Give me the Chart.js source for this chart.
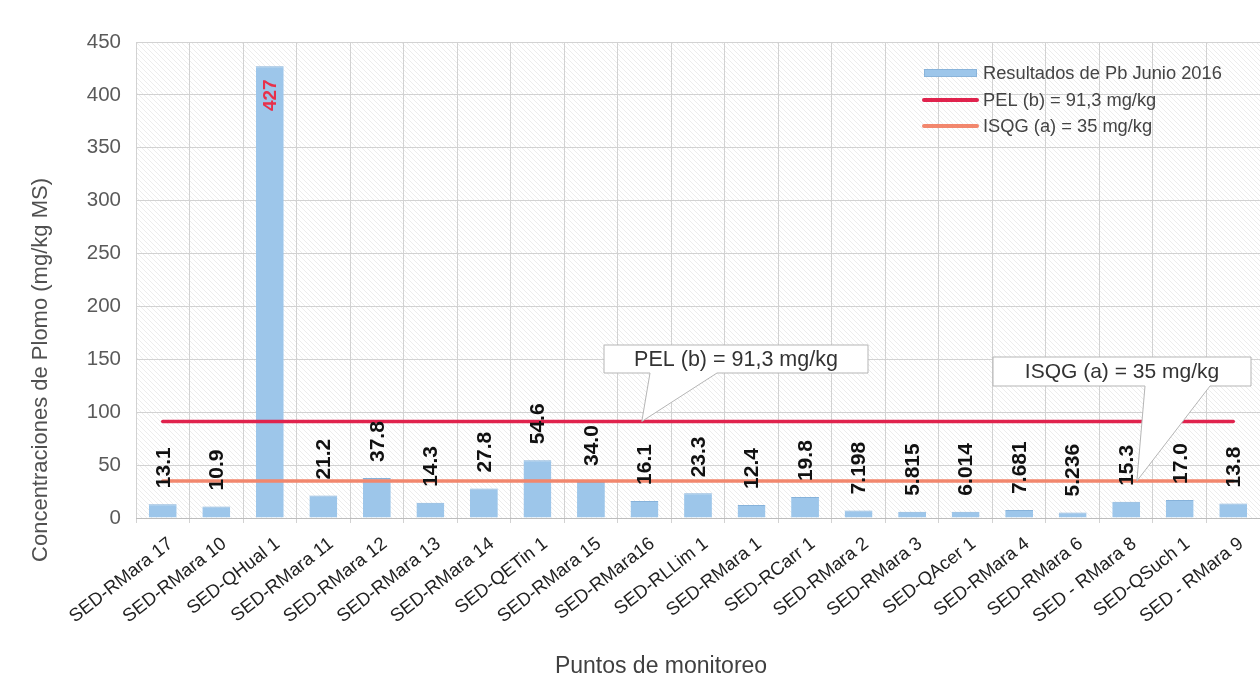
<!DOCTYPE html>
<html><head><meta charset="utf-8">
<script src="https://cdn.jsdelivr.net/npm/chart.js@4.4.1/dist/chart.umd.min.js"></script>
<style>html,body{margin:0;padding:0;background:#fff}</style>
</head><body>
<canvas id="c" width="1260" height="681" style="display:block;width:1260px;height:681px"></canvas>
<script>
const categories = ['SED-RMara 17','SED-RMara 10','SED-QHual 1','SED-RMara 11','SED-RMara 12','SED-RMara 13','SED-RMara 14','SED-QETin 1','SED-RMara 15','SED-RMara16','SED-RLLim 1','SED-RMara 1','SED-RCarr 1','SED-RMara 2','SED-RMara 3','SED-QAcer 1','SED-RMara 4','SED-RMara 6','SED - RMara 8','SED-QSuch 1','SED - RMara 9'];
const pbValues = [13.1,10.9,427,21.2,37.8,14.3,27.8,54.6,34.0,16.1,23.3,12.4,19.8,7.198,5.815,6.014,7.681,5.236,15.3,17.0,13.8];
const pbLabels = ['13.1','10.9','427','21.2','37.8','14.3','27.8','54.6','34.0','16.1','23.3','12.4','19.8','7.198','5.815','6.014','7.681','5.236','15.3','17.0','13.8'];
const pelValue = 91.3;
const isqgValue = 35;
const pelSeries = categories.map(() => pelValue);
const isqgSeries = categories.map(() => isqgValue);
const yTicks = [0,50,100,150,200,250,300,350,400,450];
const seriesNames = ['Resultados de Pb Junio 2016','PEL (b) = 91,3 mg/kg','ISQG (a) = 35 mg/kg'];
const calloutTexts = ['PEL (b) = 91,3 mg/kg','ISQG (a) = 35 mg/kg'];
const yTitle = 'Concentraciones de Plomo (mg/kg MS)';
const xTitle = 'Puntos de monitoreo';

const BAR = '#9dc6ea', RED = '#e0234d', ORANGE = '#f2876d';
const FONT = '"Liberation Sans", Arial, sans-serif';

const deco = {
  id: 'deco',
  beforeDraw(chart) {
    const {ctx, chartArea: a} = chart;
    ctx.save();
    ctx.beginPath(); ctx.rect(a.left, a.top, a.right - a.left, a.bottom - a.top); ctx.clip();
    ctx.strokeStyle = 'rgba(140,140,140,0.16)'; ctx.lineWidth = 1;
    ctx.beginPath();
    for (let s = -800; s < 1400; s += 5) {
      ctx.moveTo(a.left + s, a.top); ctx.lineTo(a.left + s + 700, a.top + 700);
    }
    ctx.stroke();
    ctx.restore();
  },
  afterDatasetsDraw(chart) {
    const {ctx} = chart;
    const meta = chart.getDatasetMeta(2);
    ctx.save();
    meta.data.forEach((bar, i) => {
      const txt = pbLabels[i];
      ctx.save();
      if (pbValues[i] > 300) {
        ctx.translate(bar.x + 1, bar.y + 13);
        ctx.rotate(-Math.PI / 2);
        ctx.font = 'bold 19px ' + FONT;
        ctx.fillStyle = '#e8304a';
        ctx.textAlign = 'right'; ctx.textBaseline = 'middle';
        ctx.fillText(txt, 0, 0);
      } else {
        ctx.translate(bar.x + 1, bar.y - 16);
        ctx.rotate(-Math.PI / 2);
        ctx.font = 'bold 21px ' + FONT;
        ctx.fillStyle = '#111';
        ctx.textAlign = 'left'; ctx.textBaseline = 'middle';
        ctx.fillText(txt, 0, 0);
      }
      ctx.restore();
    });
    ctx.restore();
  },
  afterDraw(chart) {
    const {ctx, scales} = chart;
    const x = scales.x, y = scales.y;
    ctx.save();
    ctx.fillStyle = '#505050';
    ctx.font = '22px ' + FONT;
    ctx.textAlign = 'center'; ctx.textBaseline = 'middle';
    ctx.save(); ctx.translate(41, 370); ctx.rotate(-Math.PI / 2); ctx.fillText(yTitle, 0, 0); ctx.restore();
    ctx.fillStyle = '#404040';
    ctx.font = '23px ' + FONT;
    ctx.fillText(xTitle, 661, 667);

    function callout(text, size, bx, by, bw, bh, b1, b2, tipX, tipY) {
      ctx.beginPath();
      ctx.moveTo(bx, by); ctx.lineTo(bx + bw, by); ctx.lineTo(bx + bw, by + bh);
      ctx.lineTo(b2, by + bh); ctx.lineTo(tipX, tipY); ctx.lineTo(b1, by + bh);
      ctx.lineTo(bx, by + bh); ctx.closePath();
      ctx.fillStyle = '#ffffff'; ctx.fill();
      ctx.strokeStyle = '#b5b5b5'; ctx.lineWidth = 1; ctx.stroke();
      ctx.fillStyle = '#333';
      ctx.font = size + 'px ' + FONT; ctx.textAlign = 'center'; ctx.textBaseline = 'middle';
      ctx.fillText(text, bx + bw / 2, by + bh / 2 + 1);
    }
    callout(calloutTexts[0], 21.5, 604, 345, 264, 28, 650, 717, x.getPixelForValue(8.95), y.getPixelForValue(pelValue));
    callout(calloutTexts[1], 21, 993, 357, 258, 29, 1145, 1210, x.getPixelForValue(18.2), y.getPixelForValue(isqgValue));

    const lx = 924, lw = 53, tx = 983;
    const rows = [73, 100, 126];
    ctx.fillStyle = BAR; ctx.fillRect(lx, rows[0] - 4, lw, 8);
    ctx.strokeStyle = '#8ab4da'; ctx.lineWidth = 1; ctx.strokeRect(lx + 0.5, rows[0] - 3.5, lw - 1, 7);
    ctx.lineCap = 'round';
    ctx.strokeStyle = RED; ctx.lineWidth = 4;
    ctx.beginPath(); ctx.moveTo(lx, rows[1]); ctx.lineTo(lx + lw, rows[1]); ctx.stroke();
    ctx.strokeStyle = ORANGE; ctx.lineWidth = 4;
    ctx.beginPath(); ctx.moveTo(lx, rows[2]); ctx.lineTo(lx + lw, rows[2]); ctx.stroke();
    ctx.fillStyle = '#444'; ctx.font = '18.3px ' + FONT; ctx.textAlign = 'left'; ctx.textBaseline = 'middle';
    seriesNames.forEach((s, i) => ctx.fillText(s, tx, rows[i] + 1));
    ctx.restore();
  }
};

new Chart(document.getElementById('c'), {
  data: {
    labels: categories,
    datasets: [
      { type: 'line', label: seriesNames[1], data: pelSeries,
        borderColor: RED, borderWidth: 3.5, pointRadius: 0, borderCapStyle: 'round', order: 1 },
      { type: 'line', label: seriesNames[2], data: isqgSeries,
        borderColor: ORANGE, borderWidth: 3.5, pointRadius: 0, borderCapStyle: 'round', order: 2 },
      { type: 'bar', label: seriesNames[0], data: pbValues, grouped: false,
        backgroundColor: BAR, borderColor: '#86b2da', borderWidth: {top: 1, left: 0, right: 0, bottom: 0},
        barPercentage: 0.52, categoryPercentage: 1, order: 3 }
    ]
  },
  options: {
    responsive: false, animation: false, devicePixelRatio: 1,
    layout: { padding: { left: 0, right: 0, top: 42, bottom: 0 } },
    plugins: { legend: { display: false }, tooltip: { enabled: false } },
    scales: {
      x: {
        type: 'category', position: 'bottom', offset: true,
        grid: { color: '#d2d2d2', offset: true, tickLength: 5, drawTicks: true },
        border: { color: '#bdbdbd' },
        ticks: { color: '#222', font: { size: 18.5, family: FONT }, minRotation: 38, maxRotation: 38, autoSkip: false, labelOffset: 8, padding: 10 },
        afterFit(s) { s.height = 163; }
      },
      y: {
        min: 0, max: 450,
        afterBuildTicks(s) { s.ticks = yTicks.map(v => ({value: v})); },
        grid: { color: '#d2d2d2', drawTicks: false },
        border: { display: false },
        ticks: { color: '#5a5a5a', font: { size: 20.5, family: FONT }, padding: 15 },
        afterFit(s) { s.width = 136; }
      }
    }
  },
  plugins: [deco]
});
</script>
</body></html>
